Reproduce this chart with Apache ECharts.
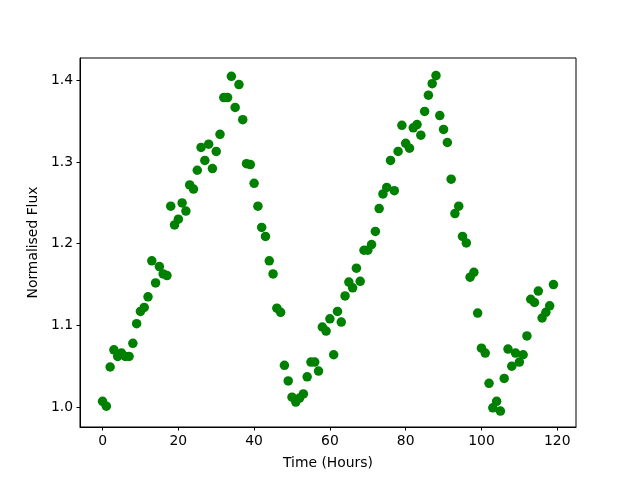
<!DOCTYPE html>
<html>
<head>
<meta charset="utf-8">
<script src="https://cdn.jsdelivr.net/npm/echarts@6/dist/echarts.min.js"></script>
<style>
  html, body { margin: 0; padding: 0; background: #fff; }
  #chart { width: 640px; height: 480px; }
</style>
</head>
<body>
<div id="chart"></div>
<script>
// hours 0..119
const hours = []
for (let i = 0; i < 120; i++) hours.push(i)

const flux = [
  1.007, 1.001, 1.049, 1.070, 1.062, 1.066, 1.062, 1.062, 1.078, 1.102,
  1.117, 1.122, 1.135, 1.179, 1.152, 1.172, 1.163, 1.161, 1.246, 1.223,
  1.230, 1.250, 1.240, 1.272, 1.267, 1.290, 1.318, 1.302, 1.322, 1.292,
  1.313, 1.334, 1.379, 1.379, 1.405, 1.367, 1.395, 1.352, 1.298, 1.297,
  1.274, 1.246, 1.220, 1.209, 1.179, 1.163, 1.121, 1.116, 1.051, 1.032,
  1.012, 1.006, 1.011, 1.016, 1.037, 1.055, 1.055, 1.044, 1.098, 1.093,
  1.108, 1.064, 1.117, 1.104, 1.136, 1.153, 1.146, 1.170, 1.154, 1.192,
  1.192, 1.199, 1.215, 1.243, 1.261, 1.269, 1.302, 1.265, 1.313, 1.345,
  1.323, 1.317, 1.342, 1.346, 1.333, 1.362, 1.382, 1.396, 1.406, 1.357,
  1.340, 1.324, 1.279, 1.237, 1.246, 1.209, 1.201, 1.159, 1.165, 1.115,
  1.072, 1.066, 1.029, 0.999, 1.007, 0.995, 1.035, 1.071, 1.050, 1.066,
  1.055, 1.064, 1.087, 1.132, 1.128, 1.142, 1.109, 1.116, 1.124, 1.150
]

const xTicks = [0, 20, 40, 60, 80, 100, 120]
const yTicks = [1.0, 1.1, 1.2, 1.3, 1.4]

const chart = echarts.init(document.getElementById('chart'))
const font = 'DejaVu Sans'
const points = hours.map((h, i) => [h, flux[i]])

const option = {
  animation: false,
  grid: {
    left: 80,
    right: 64,
    top: 58,
    bottom: 53,
    show: true,
    borderColor: '#000',
    borderWidth: 1
  },
  xAxis: {
    type: 'value',
    min: -5.95,
    max: 124.95,
    name: 'Time (Hours)',
    nameLocation: 'middle',
    nameGap: 29,
    nameTextStyle: { color: '#000', fontFamily: font, fontSize: 13.9 },
    axisLine: { show: true, onZero: false, lineStyle: { color: '#000' } },
    axisTick: { show: true, inside: false, length: 3.5, customValues: xTicks, lineStyle: { color: '#000' } },
    axisLabel: { color: '#000', fontFamily: font, fontSize: 13.9, margin: 7, customValues: xTicks },
    splitLine: { show: false }
  },
  yAxis: {
    type: 'value',
    min: 0.9755,
    max: 1.4275,
    name: 'Normalised Flux',
    nameLocation: 'middle',
    nameGap: 38,
    nameTextStyle: { color: '#000', fontFamily: font, fontSize: 13.9 },
    axisLine: { show: true, onZero: false, lineStyle: { color: '#000' } },
    axisTick: { show: true, inside: false, length: 3.5, customValues: yTicks, lineStyle: { color: '#000' } },
    axisLabel: {
      color: '#000', fontFamily: font, fontSize: 13.9, margin: 7, customValues: yTicks,
      formatter: function(v) { return v.toFixed(1) }
    },
    splitLine: { show: false }
  },
  series: [
    {
      type: 'scatter',
      data: points,
      symbol: 'circle',
      symbolSize: 9.5,
      itemStyle: { color: '#008000', opacity: 1 }
    }
  ]
}
chart.setOption(option)
</script>
</body>
</html>
